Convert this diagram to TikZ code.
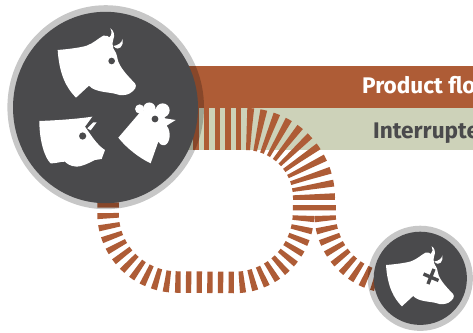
\documentclass[tikz,border=0pt]{standalone}
\usepackage{fontspec}
\setmainfont{Fira Sans}
\definecolor{rust}{HTML}{AE5C36}
\definecolor{pale}{HTML}{CDD2B9}
\definecolor{slate}{HTML}{4A4A4C}
\tikzset{
  flowdash/.style={draw=rust,line width=#1,line cap=butt,dash pattern=on 5.33pt off 5.33pt},
  ring/.style={fill=black,fill opacity=.22,draw=none},
  disc/.style={fill=slate,draw=none},
  shapefill/.style={fill=white,draw=none},
  eye/.style={fill=slate,draw=none},
  bandlabel/.style={anchor=base west,inner sep=0pt,font=\fontsize{22.6}{23}\selectfont\bfseries}
}
\newcommand{\cowshape}{
  \fill[shapefill] (23,90) .. controls (60,87) and (95,82) .. (110,77) .. controls (130,70) and (145,55) .. (160,47)
    .. controls (170,46) and (175,48) .. (178,52) .. controls (186,45) and (186,35) .. (181,25)
    .. controls (190,30) and (196,45) .. (190,58) .. controls (186,66) and (187,75) .. (190,85)
    .. controls (196,95) and (200,100) .. (203,118) .. controls (207,140) and (235,170) .. (255,190)
    .. controls (262,200) and (255,210) .. (240,220) .. controls (230,226) and (210,228) .. (198,222)
    .. controls (180,216) and (135,218) .. (117,197) -- (78,233) .. controls (50,205) and (28,165) .. (23,90) -- cycle;
  \fill[shapefill] (190,78) .. controls (205,76) and (215,68) .. (218,57) .. controls (222,75) and (208,98) .. (190,78) -- cycle;
}
\begin{document}
\begin{tikzpicture}[x=1pt,y=-1pt]
\useasboundingbox (0,0) rectangle (473,332);
\fill[white] (0,0) rectangle (473,332);
% bands
\fill[pale] (170,108) rectangle (473,150);
\fill[rust] (170,66) rectangle (473,108);
\node[bandlabel,text=white] (flow) at (362,93) {Product flo};
\node[bandlabel,text=slate] (stop) at (373,138.3) {Interrupte};
% striped flow
\draw[flowdash=42pt] (182.67,129) -- (245,129);
\draw[rust,line width=42pt,dash pattern=on 5.2pt off 5.1pt,dash phase=8.64pt]
  plot[domain=90:0,samples=80,variable=\t] ({245+69*cos(\t)},{198-69*sin(\t)});
\draw[flowdash=42pt,dash phase=3.7pt] (314,198) -- (314,210);
\draw[flowdash=21.5pt] (303.5,205) -- (303.5,213)
  -- plot[domain=0:90,samples=80,variable=\t] ({234+69.5*cos(\t)},{213+69.5*sin(\t)})
  -- plot[domain=90:180,samples=80,variable=\t] ({177+69*cos(\t)},{213+69*sin(\t)})
  -- (108,200);
\draw[flowdash=21.5pt] (325,205) -- (325,213)
  -- plot[domain=180:105,samples=60,variable=\t] ({395+70*cos(\t)},{213+70*sin(\t)});
% big disc
\fill[ring] (105.7,107.2) ellipse [x radius=98.3,y radius=102];
\fill[disc] (105.5,107.5) ellipse [x radius=92.5,y radius=95.7];
% cow
\begin{scope}[shift={(50,20)},x=.3333pt,y=-.3333pt]
  \cowshape
  \fill[eye] (185,123) circle[radius=3.3pt];
\end{scope}
% pig and chicken
\begin{scope}[shift={(30,95)},x=.3333pt,y=-.3333pt]
  \fill[shapefill] (28,78) .. controls (80,76) and (140,72) .. (187,65) -- (165,95)
    .. controls (180,115) and (200,150) .. (225,165) -- (215,192) -- (195,195)
    .. controls (175,205) and (155,215) .. (140,215) .. controls (120,214) and (110,205) .. (105,200)
    .. controls (90,200) and (75,206) .. (62,205) .. controls (45,190) and (28,140) .. (28,78) -- cycle;
  \fill[shapefill] (172,100) -- (190,82) -- (200,82) -- (182,106) -- cycle;
  \fill[eye] (158,123) circle[radius=3.6pt];
  \fill[shapefill] (265,128) -- (325,58) -- (335,48) -- (360,40) -- (395,45) -- (405,70) -- (437,75) -- (410,92)
    .. controls (425,110) and (420,145) .. (405,150) .. controls (395,152) and (388,147) .. (385,140)
    -- (362,205) .. controls (330,190) and (290,160) .. (265,128) -- cycle;
  \fill[shapefill] (329,42) circle[radius=4.6pt];
  \fill[shapefill] (358,41) circle[radius=6.2pt];
  \fill[shapefill] (398,46) circle[radius=7pt];
  \fill[eye] (375,72) circle[radius=3.4pt];
\end{scope}
% small disc
\fill[ring] (420.3,278.3) circle[radius=52.6];
\fill[disc] (420.3,278.3) circle[radius=46.6];
\begin{scope}[shift={(379.35,239)},x=.289pt,y=-.289pt]
  \cowshape
\end{scope}
\draw[slate,line width=3.4pt] (423.5,274) -- (438.5,280.5);
\draw[slate,line width=3.4pt] (428,284) -- (434,269);
\end{tikzpicture}
\end{document}
